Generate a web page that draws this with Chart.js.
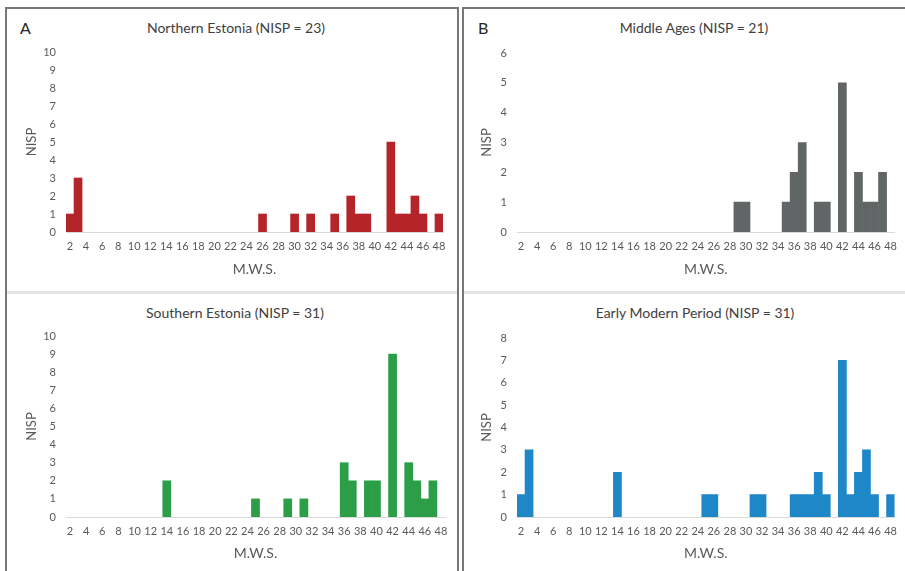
<!DOCTYPE html>
<html>
<head>
<meta charset="utf-8">
<script src="https://cdn.jsdelivr.net/npm/chart.js@4"></script>
<style>
  html, body { margin: 0; padding: 0; background: #fff; }
  body { width: 905px; height: 571px; position: relative; overflow: hidden; font-family: Lato, "Open Sans", sans-serif; }
  .box { position: absolute; border: 2px solid #777; border-bottom: none; box-sizing: border-box; }
  .sep { position: absolute; height: 3px; background: #e4e4e4; }
  .cv { position: absolute; }
  .ttl { position: absolute; transform: translate(-50%, -50%); font-size: 14px; color: #404040; white-space: nowrap; }
  .letter { position: absolute; transform: translateY(-50%); font-size: 16px; color: #262626; }
</style>
</head>
<body>
<div class="box" style="left:5px;top:7px;width:454px;height:580px;"></div>
<div class="box" style="left:462px;top:7px;width:460px;height:580px;border-right:none;"></div>
<div class="sep" style="left:7px;top:291px;width:450px;"></div>
<div class="sep" style="left:464px;top:291px;width:441px;"></div>

<div class="letter" style="left:20px;top:27px;">A</div>
<div class="letter" style="left:478px;top:27px;">B</div>
<div class="ttl" style="left:236px;top:27px;">Northern Estonia (NISP = 23)</div>
<div class="ttl" style="left:694px;top:27px;">Middle Ages (NISP = 21)</div>
<div class="ttl" style="left:235px;top:312px;">Southern Estonia (NISP = 31)</div>
<div class="ttl" style="left:695px;top:312px;">Early Modern Period (NISP = 31)</div>

<canvas id="chartA" class="cv" style="left:7px;top:9px;" width="449" height="280"></canvas>
<canvas id="chartB" class="cv" style="left:464px;top:9px;" width="441" height="280"></canvas>
<canvas id="chartC" class="cv" style="left:7px;top:295px;" width="449" height="276"></canvas>
<canvas id="chartD" class="cv" style="left:464px;top:295px;" width="441" height="276"></canvas>

<script>
// M.W.S. classes on the x axis (every class gets one bar)
const mwsClasses = [2, 3, 4, 5, 6, 7, 8, 9, 10, 11,
  12, 13, 14, 15, 16, 17, 18, 19, 20, 21,
  22, 23, 24, 25, 26, 27, 28, 29, 30, 31,
  32, 33, 34, 35, 36, 37, 38, 39, 40, 41,
  42, 43, 44, 45, 46, 47, 48];

// NISP per class
const northernEstonia = [1, 3, 0, 0, 0, 0, 0, 0, 0, 0,
  0, 0, 0, 0, 0, 0, 0, 0, 0, 0,
  0, 0, 0, 0, 1, 0, 0, 0, 1, 0,
  1, 0, 0, 1, 0, 2, 1, 1, 0, 0,
  5, 1, 1, 2, 1, 0, 1];

const middleAges = [0, 0, 0, 0, 0, 0, 0, 0, 0, 0,
  0, 0, 0, 0, 0, 0, 0, 0, 0, 0,
  0, 0, 0, 0, 0, 0, 0, 1, 1, 0,
  0, 0, 0, 1, 2, 3, 0, 1, 1, 0,
  5, 0, 2, 1, 1, 2, 0];

const southernEstonia = [0, 0, 0, 0, 0, 0, 0, 0, 0, 0,
  0, 0, 2, 0, 0, 0, 0, 0, 0, 0,
  0, 0, 0, 1, 0, 0, 0, 1, 0, 1,
  0, 0, 0, 0, 3, 2, 0, 2, 2, 0,
  9, 0, 3, 2, 1, 2, 0];

const earlyModern = [1, 3, 0, 0, 0, 0, 0, 0, 0, 0,
  0, 0, 2, 0, 0, 0, 0, 0, 0, 0,
  0, 0, 0, 1, 1, 0, 0, 0, 0, 1,
  1, 0, 0, 0, 1, 1, 1, 2, 1, 0,
  7, 1, 2, 3, 1, 0, 1];

// y axis maximum for each panel
const yMaxA = 10, yMaxB = 6, yMaxC = 10, yMaxD = 8;

Chart.defaults.font.family = "Lato, 'Open Sans', sans-serif";
Chart.defaults.color = "#595959";

// one panel: geometry numbers are canvas pixels
function makePanel(id, values, color, yMax, g) {
  const ctx = document.getElementById(id).getContext("2d");
  return new Chart(ctx, {
    type: "bar",
    data: {
      labels: mwsClasses,
      datasets: [{
        data: values,
        backgroundColor: color,
        borderWidth: 0,
        // no inflate on empty classes, otherwise they show as a coloured hairline
        inflateAmount: (c) => (c.raw === 0 ? 0 : 0.33),
        barPercentage: 1,
        categoryPercentage: 1
      }]
    },
    options: {
      responsive: false,
      animation: false,
      events: [],
      layout: { padding: { top: g.top, right: g.right, bottom: 0, left: 0 } },
      plugins: { legend: { display: false }, tooltip: { enabled: false } },
      scales: {
        x: {
          grid: { display: false, drawTicks: false },
          border: { display: true, color: "#d9d9d9", width: 1 },
          ticks: {
            autoSkip: false, maxRotation: 0, minRotation: 0, padding: 8,
            font: { size: 11 },
            callback: function(val, i) { return i % 2 === 0 ? mwsClasses[i] : ""; }
          },
          title: { display: true, text: "M.W.S.", font: { size: 14 }, padding: { top: 0, bottom: g.xTitlePad } },
          afterFit: function(s) { s.height = g.xHeight; }
        },
        y: {
          min: 0, max: yMax,
          grid: { display: false, drawTicks: false },
          border: { display: false },
          ticks: { stepSize: 1, padding: g.yTickPad, font: { size: 11 } },
          title: { display: true, text: "NISP", font: { size: 13 }, padding: { top: g.yTitlePad, bottom: 0 } },
          afterFit: function(s) { s.width = g.yWidth; }
        }
      }
    }
  });
}

makePanel("chartA", northernEstonia, "#b4252a", yMaxA,
  { top: 43, right: 13, xHeight: 57, yWidth: 59, yTickPad: 10, xTitlePad: 11, yTitlePad: 17 });
makePanel("chartB", middleAges, "#626566", yMaxB,
  { top: 44, right: 4, xHeight: 57, yWidth: 53, yTickPad: 10, xTitlePad: 11, yTitlePad: 15 });
makePanel("chartC", southernEstonia, "#2b9e47", yMaxC,
  { top: 41, right: 11, xHeight: 54, yWidth: 59, yTickPad: 10, xTitlePad: 9, yTitlePad: 17 });
makePanel("chartD", earlyModern, "#1e87c8", yMaxD,
  { top: 43, right: 5, xHeight: 54, yWidth: 53, yTickPad: 10, xTitlePad: 9, yTitlePad: 15 });
</script>
</body>
</html>
